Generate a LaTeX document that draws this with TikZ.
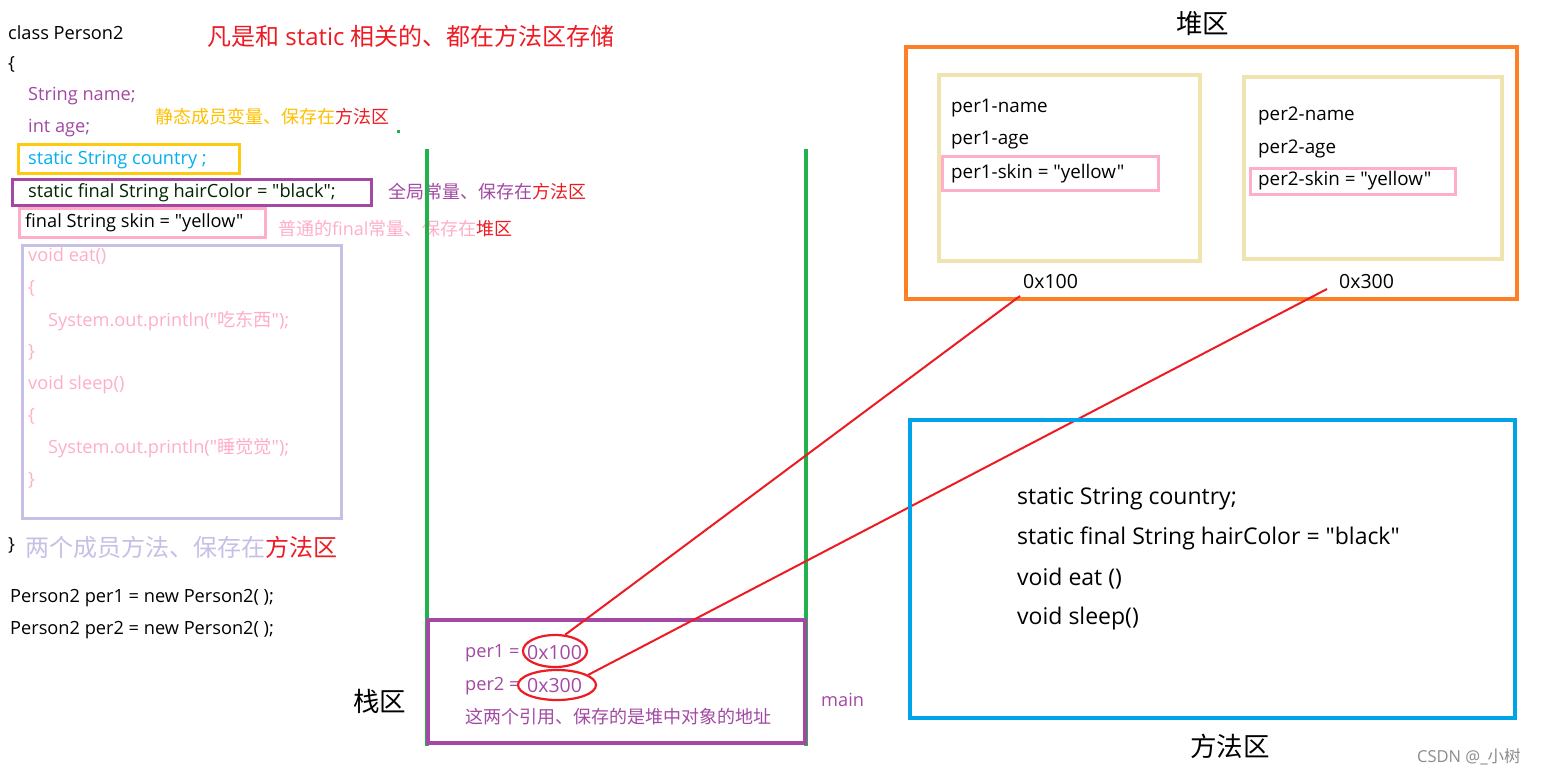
\documentclass[tikz,border=0pt]{standalone}
\usepackage{fontspec}
\setmainfont{Open Sans}[Ligatures=TeXOff]
\newfontfamily\cjk{Noto Sans CJK SC}[Ligatures=TeXOff]
\usetikzlibrary{shapes.geometric}
\definecolor{cpurp}{HTML}{A349A4}
\definecolor{cred}{HTML}{ED1C24}
\definecolor{cgreen}{HTML}{22B14C}
\definecolor{corange}{HTML}{FF7F27}
\definecolor{cblue}{HTML}{00A2E8}
\definecolor{ctxtblue}{HTML}{00B0F0}
\definecolor{cbeige}{HTML}{EFE4B0}
\definecolor{cpink}{HTML}{FFAEC9}
\definecolor{clav}{HTML}{C8BFE7}
\definecolor{cyellow}{HTML}{FFC90E}
\definecolor{cytext}{HTML}{FFC000}
\definecolor{cgray}{HTML}{8C8C8C}
\tikzset{
  txt/.style={inner sep=0pt, anchor=west, yshift=-1.5pt, font=\fontsize{18.2}{20}\selectfont},
  htxt/.style={inner sep=0pt, anchor=west, yshift=-1.5pt, font=\fontsize{18.8}{20}\selectfont},
  note/.style={inner sep=0pt, anchor=west, font=\fontsize{18}{20}\selectfont\cjk},
  big/.style={inner sep=0pt, anchor=west, font=\fontsize{26.5}{30}\selectfont\cjk},
  mtxt/.style={inner sep=0pt, anchor=west, yshift=-1.5pt, font=\fontsize{23}{26}\selectfont},
  addrtxt/.style={inner sep=0pt, anchor=west, yshift=-1pt, font=\fontsize{19.5}{22}\selectfont},
  boxline/.style={line width=3pt},
  addr/.style={draw=cred, line width=2.2pt, ellipse, inner sep=0pt},
  link/.style={draw=cred, line width=2pt},
}
\begin{document}
\begin{tikzpicture}[x=1pt,y=-1pt]
\useasboundingbox[fill=white] (0,0) rectangle (1553,776);
% ---------- left code ----------
\node[txt] (cls) at (8,31) {class Person2};
\node[txt] (ob) at (8,63) {\{};
\node[txt, text=cpurp] (fname) at (28,95) {String name;};
\node[txt, text=cpurp] (fage) at (28,127) {int age;};
\node[note] (n1) at (155,117) {\textcolor{cytext}{静态成员变量、保存在}\textcolor{cred}{方法区}};
\fill[cgreen] (397,130) rectangle (400,133);
\draw[boxline, draw=cyellow] (18,144) rectangle (239,173);
\node[txt, text=ctxtblue] (fcountry) at (28,159) {static String country ;};
\draw[boxline, draw=cpurp] (12,179) rectangle (371,205);
\node[txt, text=black!85!green] (fhair) at (28,191) {static final String hairColor = "black";};
\node[note] (n2) at (388,192) {\textcolor{cpurp}{全局常量、保存在}\textcolor{cred}{方法区}};
\draw[boxline, draw=cpink] (19,208) rectangle (265,237);
\node[txt] (fskin) at (25,221) {final String skin = "yellow"};
\node[note] (n3) at (278,229) {\textcolor{cpink}{普通的{\fontspec{Open Sans}final}常量、保存在}\textcolor{cred}{堆区}};
\draw[boxline, draw=clav] (22,245) rectangle (341,518);
\node[txt, text=cpink] (m1) at (28,255) {void eat()};
\node[txt, text=cpink] (m2) at (28,287) {\{};
\node[txt, text=cpink] (m3) at (48,319) {System.out.println("{\cjk 吃东西}");};
\node[txt, text=cpink] (m4) at (28,351) {\}};
\node[txt, text=cpink] (m5) at (28,383) {void sleep()};
\node[txt, text=cpink] (m6) at (28,415) {\{};
\node[txt, text=cpink] (m7) at (48,447) {System.out.println("{\cjk 睡觉觉}");};
\node[txt, text=cpink] (m8) at (28,479) {\}};
\node[txt] (cb) at (8,544) {\}};
\node[inner sep=0pt, anchor=west, font=\fontsize{24}{26}\selectfont\cjk] (n4) at (25,547) {\textcolor{clav}{两个成员方法、保存在}\textcolor{cred}{方法区}};
\node[txt] (p1) at (10,597) {Person2 per1 = new Person2( );};
\node[txt] (p2) at (10,629) {Person2 per2 = new Person2( );};
% title
\node[inner sep=0pt, anchor=west, font=\fontsize{24}{28}\selectfont, text=cred] (title) at (207,36) {{\cjk 凡是和} static {\cjk 相关的、都在方法区存储}};
% ---------- stack ----------
\draw[line width=4pt, cgreen] (427,149) -- (427,746);
\draw[line width=4pt, cgreen] (806,149) -- (806,746);
\draw[line width=4.5pt, cpurp] (428,620) rectangle (805,743);
\node[txt, text=cpurp] (s1) at (465,652) {per1 =};
\node[addrtxt, text=cpurp] (v1) at (527,652) {0x100};
\node[txt, text=cpurp] (s2) at (465,685) {per2 =};
\node[addrtxt, text=cpurp] (v2) at (527,685) {0x300};
\node[addr, minimum width=64pt, minimum height=32pt] (e1) at (555,651) {};
\node[addr, minimum width=78pt, minimum height=30pt] (e2) at (557,685) {};
\node[note, text=cpurp] (s3) at (465,717) {这两个引用、保存的是堆中对象的地址};
\node[big] (stack) at (353,701) {栈区};
\node[txt, text=cpurp] (main) at (821,698) {main};
% ---------- heap ----------
\node[big] (heap) at (1176,24) {堆区};
\draw[line width=4pt, corange] (906,47) rectangle (1517,299);
\draw[line width=4pt, cbeige] (939,75) rectangle (1200,261);
\draw[line width=4pt, cbeige] (1244,77) rectangle (1502,259);
\node[htxt] (h11) at (951,107) {per1-name};
\node[htxt] (h12) at (951,139) {per1-age};
\draw[boxline, draw=cpink] (942,156) rectangle (1158,190);
\node[htxt] (h13) at (951,172) {per1-skin = "yellow"};
\node[htxt] (h21) at (1258,114) {per2-name};
\node[htxt] (h22) at (1258,147) {per2-age};
\draw[boxline, draw=cpink] (1250,168) rectangle (1455,194);
\node[htxt] (h23) at (1258,179) {per2-skin = "yellow"};
\node[addrtxt] (a1) at (1023,281) {0x100};
\node[addrtxt] (a2) at (1339,281) {0x300};
\coordinate (t1) at (1020,296);
\coordinate (t2) at (1327,289);
\draw[link] (e1.58) -- (t1);
\draw[link] (e2.18) -- (t2);
% ---------- method area ----------
\draw[line width=4pt, cblue] (910,420) rectangle (1515,718);
\node[mtxt] (ma1) at (1017,497) {static String country;};
\node[mtxt] (ma2) at (1017,537) {static final String hairColor = "black"};
\node[mtxt] (ma3) at (1017,577) {void eat ()};
\node[mtxt] (ma4) at (1017,617) {void sleep()};
\node[big] (method) at (1190,746) {方法区};
\node[inner sep=0pt, anchor=west, font=\fontsize{16.5}{18}\selectfont, text=cgray] (wm) at (1417,757) {CSDN @\_{\cjk 小树}};
\end{tikzpicture}
\end{document}
